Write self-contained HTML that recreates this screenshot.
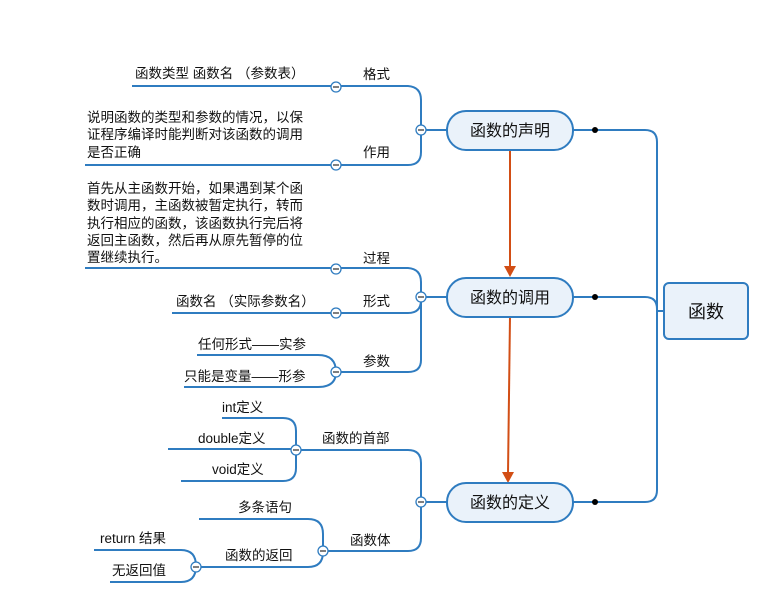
<!DOCTYPE html>
<html><head><meta charset="utf-8"><style>
html,body{margin:0;padding:0;background:#fff;}
svg{display:block;}
text{font-family:"Liberation Sans","Noto Sans CJK SC",sans-serif;fill:#111;}
.t{font-size:13.5px;}
.m{font-size:16px;}
</style></head><body>
<svg width="784" height="595" viewBox="0 0 784 595" xmlns="http://www.w3.org/2000/svg">
<g fill="none" stroke="#2f7cc0" stroke-width="2">
<path d="M573,130 H645 Q657,130 657,142 V490 Q657,502 645,502 H573"/>
<path d="M573,297 H645 Q657,297 657,309 V311 H663"/>
<path d="M421,130 H447"/>
<path d="M132,86 H408 Q421,87 421,100 V152 Q421,165 408,165 H85"/>
<path d="M421,297 H447"/>
<path d="M85,268 H408 Q421,269 421,282 V300 Q421,313 408,313 H172"/>
<path d="M421,300 V360 Q421,372 408,372 H336"/>
<path d="M197,355 H318 Q336,355 336,372 Q336,387 318,387 H184"/>
<path d="M421,502 H447"/>
<path d="M296,450 H408 Q421,450 421,463 V538 Q421,551 408,551 H323"/>
<path d="M222,418 H283 Q296,418 296,431 V468 Q296,481 283,481 H181"/>
<path d="M168,449 H296"/>
<path d="M199,519 H308 Q323,519 323,534 V552 Q323,567 308,567 H196"/>
<path d="M94,550 H181 Q196,550 196,566 Q196,582 181,582 H110"/>
</g>
<g stroke="#d24e15" stroke-width="2" fill="none">
<path d="M510,150 V268"/>
<path d="M510,316 L508,474"/>
</g>
<path d="M504,266 L516,266 L510,277 Z" fill="#d24e15"/>
<path d="M502,472 L514,472 L508,483 Z" fill="#d24e15"/>
<g fill="#000"><circle cx="595" cy="130" r="3"/><circle cx="595" cy="297" r="3"/><circle cx="595" cy="502" r="3"/></g>
<g fill="#eaf2fa" stroke="#2f7cc0" stroke-width="2">
<rect x="447" y="111" width="126" height="39" rx="19"/>
<rect x="447" y="278" width="126" height="39" rx="19"/>
<rect x="447" y="483" width="126" height="39" rx="19"/>
<rect x="664" y="283" width="84" height="56" rx="5"/>
</g>
<text class="m" x="510" y="136" text-anchor="middle">函数的声明</text>
<text class="m" x="510" y="303" text-anchor="middle">函数的调用</text>
<text class="m" x="510" y="508" text-anchor="middle">函数的定义</text>
<text x="706" y="318" text-anchor="middle" style="font-size:18px">函数</text>
<g fill="#fff" stroke="#2f7cc0" stroke-width="1.3">
<circle cx="421" cy="130" r="5"/><circle cx="336" cy="87" r="5"/><circle cx="336" cy="165" r="5"/>
<circle cx="421" cy="297" r="5"/><circle cx="336" cy="269" r="5"/><circle cx="336" cy="313" r="5"/><circle cx="336" cy="372" r="5"/>
<circle cx="421" cy="502" r="5"/><circle cx="296" cy="450" r="5"/><circle cx="323" cy="551" r="5"/><circle cx="196" cy="567" r="5"/>
</g>
<g stroke="#333" stroke-width="1.2">
<path d="M418,130h6M333,87h6M333,165h6M418,297h6M333,269h6M333,313h6M333,372h6M418,502h6M293,450h6M320,551h6M193,567h6"/>
</g>
<g>
<text class="t" x="135" y="78">函数类型 函数名 （参数表）</text>
<text class="t" x="363" y="79">格式</text>
<text class="t" x="87" y="122">说明函数的类型和参数的情况，以保</text>
<text class="t" x="87" y="139">证程序编译时能判断对该函数的调用</text>
<text class="t" x="87" y="157">是否正确</text>
<text class="t" x="363" y="157">作用</text>
<text class="t" x="87" y="193">首先从主函数开始，如果遇到某个函</text>
<text class="t" x="87" y="210">数时调用，主函数被暂定执行，转而</text>
<text class="t" x="87" y="228">执行相应的函数，该函数执行完后将</text>
<text class="t" x="87" y="245">返回主函数，然后再从原先暂停的位</text>
<text class="t" x="87" y="262">置继续执行。</text>
<text class="t" x="363" y="263">过程</text>
<text class="t" x="176" y="306">函数名 （实际参数名）</text>
<text class="t" x="363" y="306">形式</text>
<text class="t" x="198" y="349">任何形式——实参</text>
<text class="t" x="184" y="381">只能是变量——形参</text>
<text class="t" x="363" y="366">参数</text>
<text class="t" x="222" y="412">int定义</text>
<text class="t" x="198" y="443">double定义</text>
<text class="t" x="212" y="474">void定义</text>
<text class="t" x="322" y="443">函数的首部</text>
<text class="t" x="238" y="512">多条语句</text>
<text class="t" x="350" y="545">函数体</text>
<text class="t" x="225" y="560">函数的返回</text>
<text class="t" x="100" y="543">return 结果</text>
<text class="t" x="112" y="575">无返回值</text>
</g>
</svg>
</body></html>
